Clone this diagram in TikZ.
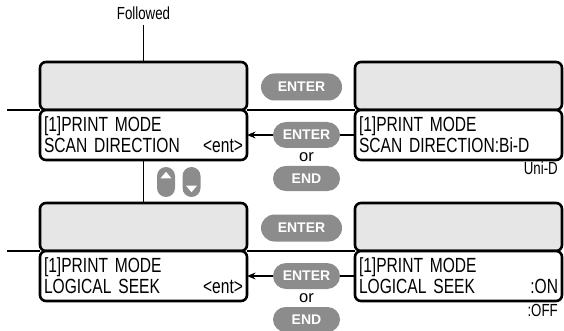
\documentclass[tikz,border=0pt]{standalone}
\usepackage{fontspec}
\setmainfont{Liberation Sans}
\newfontfamily\lcdfont{Liberation Sans}[FakeStretch=0.76]
\usetikzlibrary{arrows.meta,positioning,shapes.misc,calc}
\definecolor{lcdgray}{HTML}{E6E6E6}
\definecolor{keygray}{HTML}{8C8C8C}

\begin{document}
\begin{tikzpicture}[
  x=1pt, y=-1pt,
  lcd/.style={draw=black, line width=2.6pt, rounded corners=6pt, fill=lcdgray,
              minimum width=207pt, minimum height=48pt, inner sep=0pt, outer sep=0pt},
  lcdw/.style={lcd, fill=white, minimum height=50pt, text width=199pt, inner xsep=4pt,
               align=left, font=\lcdfont\fontsize{20.5}{21}\selectfont},
  key/.style={rounded rectangle, fill=keygray, text=white, minimum width=67pt,
              minimum height=26pt, inner sep=0pt, font=\bfseries\fontsize{14}{14}\selectfont},
  arrowkey/.style={draw=none, fill=keygray, rounded corners=9pt, minimum width=18pt,
                   minimum height=30pt, inner sep=0pt},
  note/.style={font=\lcdfont\fontsize{17.5}{17.5}\selectfont, inner sep=0pt},
  ortxt/.style={font=\fontsize{16.5}{16.5}\selectfont, inner sep=0pt},
  l/.style={line width=1.5pt, draw=black},
  a/.style={-{Stealth[length=3mm, width=2.4mm]}, line width=1.5pt, draw=black}
]
\useasboundingbox (0,0) rectangle (564,331);

% first row
\node[note, anchor=base, inner ysep=4.5pt] (fol) at (143.5,20) {Followed};
\node[lcd]  (g1) at (143.5,86)  {};
\node[lcdw] (w1) at (143.5,135) {[1]PRINT MODE\\SCAN DIRECTION\hfill<ent>\hspace*{5pt}};
\node[lcd]  (g3) at (458.5,86)  {};
\node[lcdw] (w3) at (458.5,135) {[1]PRINT MODE\\SCAN DIRECTION:Bi-D};
\node[note, anchor=base east] (uni) at (558,175) {Uni-D};

\node[key, minimum width=81pt, minimum height=27pt] (ent1) at (301.5,87) {ENTER};
\node[key] (ent2) at (306.5,135) {ENTER};
\node[ortxt] (or1) at (306.5,157) {or};
\node[key, minimum height=25pt] (end1) at (306.5,178.5) {END};

\coordinate (in1) at (7,110);
\draw[l] (fol.south) -- (g1.north);
\draw[l] (in1) -- (g1.south west);
\draw[l] (g1.south east) -- (g3.south west);
\draw[a] (ent2.west) -- (w1.east);
\draw[l] (ent2.east) -- (w3.west);

% up / down keys
\node[arrowkey] (up) at (166,182) {};
\node[arrowkey] (dn) at (191.5,182) {};
\fill[white] ($(up.north)+(0,5)$) -- ++(-5.5,6.5) -- ++(11,0) -- cycle;
\fill[white] ($(dn.south)+(0,-5)$) -- ++(-5.5,-6.5) -- ++(11,0) -- cycle;

% second row
\node[lcd]  (g2) at (143.5,227) {};
\node[lcdw] (w2) at (143.5,276) {[1]PRINT MODE\\LOGICAL SEEK\hfill<ent>\hspace*{5pt}};
\node[lcd]  (g4) at (458.5,227) {};
\node[lcdw] (w4) at (458.5,276) {[1]PRINT MODE\\LOGICAL SEEK\hfill:ON\hspace*{14pt}};
\node[note, anchor=base east] (off) at (558,316) {:OFF};

\node[key, minimum width=81pt, minimum height=27pt] (ent3) at (301.5,228) {ENTER};
\node[key] (ent4) at (306.5,276) {ENTER};
\node[ortxt] (or2) at (306.5,298) {or};
\node[key, minimum height=25pt] (end2) at (306.5,319.5) {END};

\coordinate (in2) at (7,251);
\draw[l] (w1.south) -- (g2.north);
\draw[l] (in2) -- (g2.south west);
\draw[l] (g2.south east) -- (g4.south west);
\draw[a] (ent4.west) -- (w2.east);
\draw[l] (ent4.east) -- (w4.west);
\end{tikzpicture}
\end{document}
